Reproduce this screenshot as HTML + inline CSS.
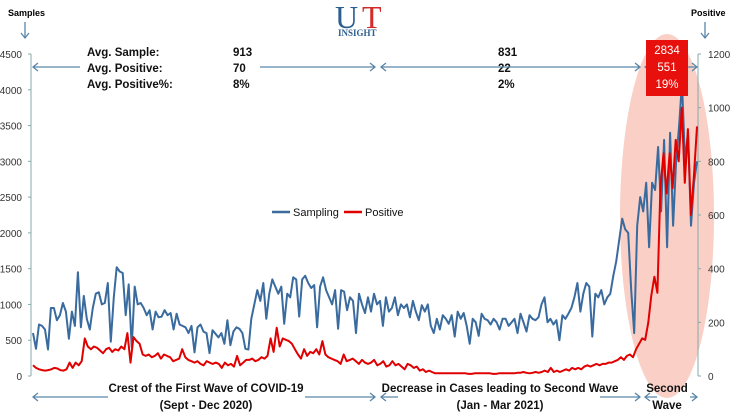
<!DOCTYPE html>
<html><head><meta charset="utf-8"><style>
body{margin:0;background:#fff;}
svg{display:block;font-family:"Liberation Sans",sans-serif;}
</style></head><body>
<svg id="c" width="730" height="420" viewBox="0 0 730 420">
<ellipse cx="667" cy="216" rx="47" ry="182" fill="#f9cfc6"/>
<g id="axes"></g>
<g id="series"></g>
<g>
<text x="335" y="28" font-family="Liberation Serif,serif" font-size="32" fill="#2d5f8e">U</text>
<text x="362" y="28" font-family="Liberation Serif,serif" font-size="32" fill="#d42a2a">T</text>
<text x="338" y="36" font-family="Liberation Serif,serif" font-size="9" font-weight="bold" fill="#2d5f8e">INSIGHT</text>
</g>
<text x="8" y="16" font-size="9" font-weight="bold">Samples</text>
<text x="691" y="16" font-size="9" font-weight="bold">Positive</text>
<g stroke="#5b86a8" fill="none" stroke-width="1.3">
<path d="M25 22V38M21 33L25 38L29 33"/><path d="M705 22V38M701 33L705 38L709 33"/>
</g>
<g font-size="11.5" font-weight="bold" fill="#111">
<text x="87" y="56">Avg. Sample:</text><text x="87" y="72">Avg. Positive:</text><text x="87" y="88">Avg. Positive%:</text>
<text x="233" y="56">913</text><text x="233" y="72">70</text><text x="233" y="88">8%</text>
<text x="498" y="56">831</text><text x="498" y="72">22</text><text x="498" y="88">2%</text>
</g>
<g stroke="#5b86a8" fill="none" stroke-width="1.3">
<path d="M33 67H80M38 63L33 67L38 71"/><path d="M260 67H375M370 63L375 67L370 71"/>
<path d="M381 67H640M386 63L381 67L386 71M635 63L640 67L635 71"/>
<path d="M645 67H697M650 63L645 67L650 71M692 63L697 67L692 71"/>
<path d="M33 397H108M38 393L33 397L38 401"/><path d="M305 397H375M370 393L375 397L370 401"/>
<path d="M381 397H398M386 393L381 397L386 401"/><path d="M600 397H640M635 393L640 397L635 401"/>
<path d="M645 397H657M650 393L645 397L650 401"/><path d="M690 397H697M692 393L697 397L692 401"/>
</g>
<g font-size="11.5" font-weight="bold" fill="#111" text-anchor="middle">
<text x="206" y="392">Crest of the First Wave of COVID-19</text><text x="206" y="409">(Sept  - Dec 2020)</text>
<text x="500" y="392">Decrease in Cases leading to  Second Wave</text><text x="500" y="409">(Jan  - Mar 2021)</text>
<text x="667" y="392">Second</text><text x="667" y="409">Wave</text>
</g>
<g font-size="11" fill="#111">
<line x1="272" y1="212" x2="290" y2="212" stroke="#3a6b9e" stroke-width="2.5"/><text x="293" y="216">Sampling</text>
<line x1="344" y1="212" x2="362" y2="212" stroke="#e00000" stroke-width="2.5"/><text x="365" y="216">Positive</text>
</g>
<g>
<rect x="646" y="40" width="42" height="56" fill="#e8100c"/>
<g font-size="11.5" fill="#fff" text-anchor="middle"><text x="667" y="54">2834</text><text x="667" y="71">551</text><text x="667" y="88">19%</text></g>
</g>
</svg>
<script>
const samples=[600,380,720,700,650,370,950,950,780,850,1020,900,520,900,700,1450,680,
1120,800,650,950,1150,1170,1000,1020,1300,480,1100,1520,1460,1440,850,1280,400,1250,1000,1020,
950,850,920,650,900,820,830,920,850,880,650,870,720,700,680,600,700,330,680,720,620,600,320,640,590,540,600,450,780,430,620,
680,660,600,380,370,800,1000,1200,1050,1300,800,1150,1350,1250,1150,1250,730,1150,1100,1380,1350,830,1350,1400,1300,1230,1270,680,1250,1380,1200,
1100,1000,1200,660,1200,1180,920,1100,1050,600,1150,1000,880,
1100,900,1150,1000,1050,700,1100,900,950,1100,850,1000,950,1000,820,1050,900,780,990,900,1000,700,600,800,650,850,800,730,850,550,900,800,880,700,
450,800,750,560,870,800,780,720,800,750,650,800,800,700,750,800,600,870,750,620,850,800,780,820,1000,1100,750,
800,720,780,500,850,800,870,950,1100,1300,900,1150,1300,1250,550,1150,1100,1200,1000,1100,1150,1400,1600,1900,2200,2050,
2000,1200,600,2100,2500,2300,2700,1800,2700,2600,3200,2300,3300,1800,3400,2100,3000,3500,4100,3000,3400,2100,2700,3000];
const positives=[40,30,25,22,20,22,25,30,28,22,20,25,50,30,50,40,55,
140,110,100,110,105,95,85,100,105,90,100,95,110,100,160,50,145,130,120,80,75,
80,70,75,85,65,80,75,70,55,60,65,100,70,60,55,50,55,45,40,55,50,45,50,45,30,50,40,45,35,75,40,
50,60,60,65,55,60,70,65,75,140,90,180,110,140,135,130,120,100,80,65,100,75,90,85,100,80,130,80,70,65,60,
55,45,80,55,60,65,55,45,60,50,45,50,60,40,45,55,35,40,
55,40,45,35,25,45,40,30,35,20,25,15,20,15,10,10,10,10,10,10,10,10,10,10,10,8,8,10,10,10,10,10,10,
8,8,10,10,10,10,10,10,12,12,15,12,10,12,15,12,15,20,15,30,15,20,15,20,25,20,30,
25,30,25,35,40,35,40,45,40,45,45,50,50,55,60,70,60,75,80,70,100,
120,140,135,200,300,370,310,700,830,680,830,700,880,800,1000,720,920,600,750,930];
const leftTicks=[0,500,1000,1500,2000,2500,3000,3500,4000,4500];
const rightTicks=[0,200,400,600,800,1000,1200];
const X0=33,X1=697,Y0=376,Y1=54;
const yL=v=>Y0-(v/4500)*(Y0-Y1), yR=v=>Y0-(v/1200)*(Y0-Y1);
const xi=(i,n)=>X0+i*(X1-X0)/(n-1);
const NS='http://www.w3.org/2000/svg';
const ax=document.getElementById('axes'), se=document.getElementById('series');
function mk(t,a,p){const e=document.createElementNS(NS,t);for(const k in a)e.setAttribute(k,a[k]);p.appendChild(e);return e;}
const la=mk('line',{x1:31,y1:Y1,x2:31,y2:Y0,stroke:'#8aa',"stroke-width":1},ax);


const ra=mk('line',{x1:698,y1:Y1,x2:698,y2:Y0,stroke:'#8aa',"stroke-width":1},ax);


leftTicks.forEach(v=>{const t=mk('text',{x:22,y:yL(v)+4,"font-size":10,"text-anchor":"end",fill:'#333'},ax);t.textContent=v;


mk('line',{x1:28,x2:31,y1:yL(v),y2:yL(v),stroke:'#8aa'},ax);});
rightTicks.forEach(v=>{const t=mk('text',{x:708,y:yR(v)+4,"font-size":10,fill:'#333'},ax);t.textContent=v;


mk('line',{x1:698,x2:701,y1:yR(v),y2:yR(v),stroke:'#8aa'},ax);});
const sp=mk('polyline',{points:samples.map((v,i)=>xi(i,samples.length).toFixed(1)+','+yL(v).toFixed(1)).join(' '),fill:'none',stroke:'#3a6b9e',"stroke-width":2,"stroke-linejoin":"round"},se);


const pp=mk('polyline',{points:positives.map((v,i)=>xi(i,positives.length).toFixed(1)+','+yR(v).toFixed(1)).join(' '),fill:'none',stroke:'#e00000',"stroke-width":2,"stroke-linejoin":"round"},se);


</script>
</body></html>
